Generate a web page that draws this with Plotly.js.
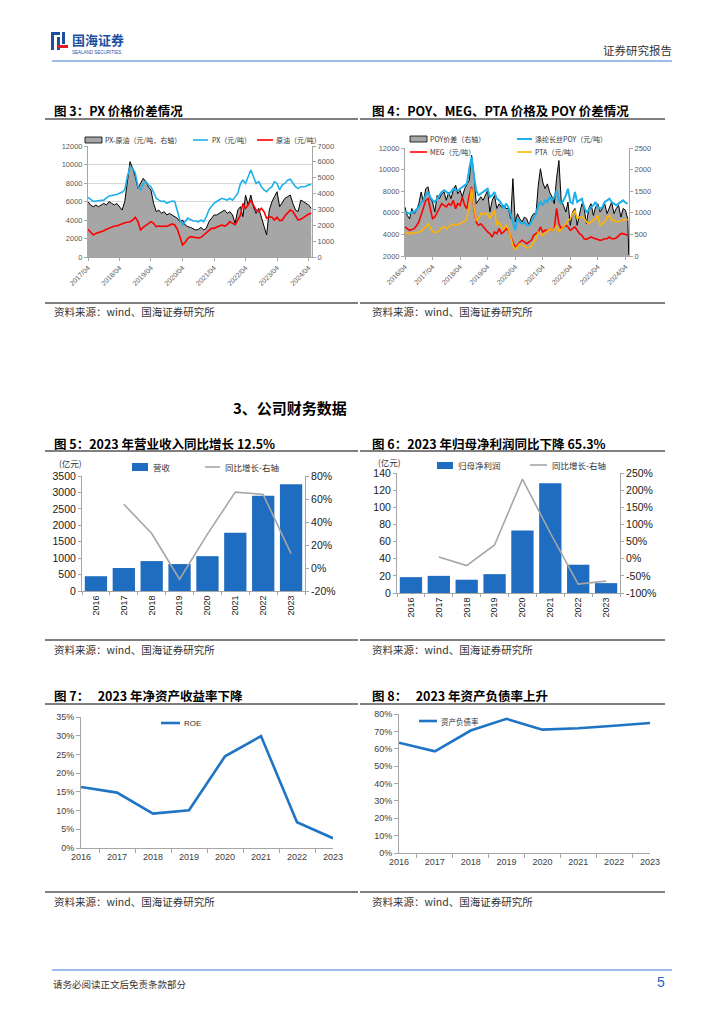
<!DOCTYPE html>
<html><head><meta charset="utf-8">
<script src="https://cdn.plot.ly/plotly-3.0.1.min.js"></script>
<style>html,body{margin:0;padding:0;background:#fff}#chart{width:724px;height:1024px}</style>
</head><body><div id="chart"></div>
<script>
function monthSeq(y,m,n){const a=[];for(let i=0;i<n;i++){const mm=m-1+i;const yy=y+Math.floor(mm/12);const mo=mm%12+1;a.push(yy+'-'+String(mo).padStart(2,'0')+'-01');}return a;}

// ===== Figure 3: PX price & spread (monthly, 2017/04 - 2024/05) =====
const months3 = monthSeq(2017,4,86);
const pxPrice = [6450,6200,6000,6050,6100,6150,6150,6400,6600,
 6650,6700,6750,6900,7000,7250,8700,9750,9600,9050,7600,7250,
 7950,8150,7800,7600,6900,6350,6150,6000,6050,5800,5950,6050,
 6000,5100,4000,3450,3800,4200,4050,3900,3900,3800,4000,3800,
 4350,5100,5450,5800,6000,6150,6350,6250,6150,6350,6150,6500,
 6900,7950,8300,7950,8700,9400,8700,7950,8150,7600,7250,7050,
 7400,7600,8150,7950,7250,7800,7950,8300,8400,7950,7600,7400,
 7600,7600,7650,7800,7850];
const crudePrice = [2990,2700,2380,2550,2630,2750,2850,3000,3100,
 3250,3350,3350,3460,3650,3710,3750,3820,4000,4290,3820,2920,
 3210,3460,3600,3820,3640,3280,3350,3300,3350,3300,3400,3570,
 3460,2990,2200,1300,1600,2020,2200,2150,2020,2050,2130,2380,
 2700,2920,3100,3100,3250,3350,3450,3350,3500,3820,3640,3500,
 4000,4540,5800,5260,5620,6160,5620,5080,4900,5260,4900,4180,
 4360,4290,4000,4290,3930,4000,4430,4790,5080,4900,4360,4000,
 4070,4290,4430,4650,4720];
const pxSpread = [3490,3280,3170,3280,3170,3280,3380,3280,3490,
 3380,3280,3380,3170,2960,3490,4640,6010,5590,5060,4330,4640,
 4960,4750,4430,4220,3380,2860,2960,2750,2860,2650,2750,2650,
 2540,2440,2230,2330,2020,1910,1870,1810,1700,1740,1870,1700,
 1810,2230,2440,2650,2650,2750,2860,2960,2750,2860,2650,2120,
 2960,3170,2540,3910,3280,3910,3170,2750,3070,2540,1910,1390,
 2960,3490,3800,4120,3170,3490,3700,3800,3910,3380,2960,2860,
 3590,3490,3380,3280,3070];
const ticks3Vals = ['2017-04-01','2018-04-01','2019-04-01','2020-04-01','2021-04-01','2022-04-01','2023-04-01','2024-04-01'];
const ticks3Text = ['2017/04','2018/04','2019/04','2020/04','2021/04','2022/04','2023/04','2024/04'];

// ===== Figure 4: POY, MEG, PTA prices & POY spread (monthly, 2016/04 - 2024/05) =====
const months4 = monthSeq(2016,4,98);
const poyPrice = [6230,6000,5920,6100,6070,6300,6540,6900,7150,
 7620,7930,7460,7150,7000,7310,7620,7930,8080,7930,7770,7930,
 8230,8080,8080,8230,8390,8540,8700,10090,11170,9470,8080,7620,
 7770,7930,8080,8230,7460,7620,7930,7310,7150,6850,6380,6850,
 6540,5770,5000,4400,5460,5150,4990,5150,4840,4840,5150,5610,
 5920,6690,7000,6690,7150,7000,7460,7150,7460,8080,7150,6850,
 7150,7620,8230,7000,6850,7930,7000,7150,7310,6540,6070,6230,
 6540,6690,7000,6540,6380,6540,7000,7150,7310,7000,6850,6690,
 6850,7000,7150,6940,6850];
const megPrice = [4690,4500,4380,4450,4530,4800,5150,5800,6380,
 7150,7310,6380,5460,5610,6070,6380,6850,6690,6540,6850,6690,
 7150,6380,6850,6690,7460,6690,6380,7620,8390,6380,5150,4840,
 4990,4690,4530,4220,4070,3760,4220,4070,4530,4070,4220,4530,
 4380,3760,3300,2830,2990,3300,3450,3300,3140,3300,3450,3910,
 4070,4220,4690,4220,4380,4380,4530,4380,4530,6400,4990,4530,
 4690,4840,4690,4380,4530,4690,4380,4070,3910,3600,3540,3670,
 3760,3670,3600,3540,3450,3510,3600,3600,3760,3600,3600,3670,
 3850,4070,4070,3980,3910];
const ptaPrice = [4220,4100,4070,4100,4160,4200,4220,4300,4470,
 4690,4990,4590,4280,4160,4220,4380,4590,4690,4530,4690,4840,
 4990,4840,4900,4990,5150,5150,5460,6690,8230,6540,5300,5460,
 5920,5920,5920,5920,5460,5920,6230,4840,5150,4690,4470,4840,
 4530,3760,2990,2620,2830,3140,2990,2930,2740,2740,2930,3300,
 3600,4220,4070,3910,4070,4280,4530,4380,4470,4840,4220,4470,
 4690,4990,5300,5400,5920,6230,5460,5610,5610,5460,5150,4990,
 5150,5300,5460,5770,4840,4990,5150,5610,5770,5300,5300,5150,
 5210,5300,5300,5400,5330];
const poySpreadDates = months4.concat(['2024-05-15']);
const poySpread = [1130,940,860,1100,980,1060,1210,1480,1250,
 1560,1600,1330,1250,1020,1400,1330,1440,1480,1290,1480,1330,
 1520,1640,1440,1520,1370,1560,1640,1750,2330,1910,1210,1290,
 1370,1290,1400,1520,1020,1290,1400,1100,1210,1130,1170,1100,
 1100,860,1790,790,980,860,790,900,860,710,900,980,
 980,1640,2020,1710,1560,1670,1480,1370,1210,1800,2210,1290,
 1170,1020,1250,710,1020,1100,710,940,1210,1100,750,1100,
 1210,940,1130,1210,1020,1100,1210,980,1130,1250,980,1100,
 1170,900,1100,1060,860,20];
const ticks4Vals = ['2016-04-01','2017-04-01','2018-04-01','2019-04-01','2020-04-01','2021-04-01','2022-04-01','2023-04-01','2024-04-01'];
const ticks4Text = ['2016/04','2017/04','2018/04','2019/04','2020/04','2021/04','2022/04','2023/04','2024/04'];

// ===== Figures 5-8: annual financials =====
const years = ['2016','2017','2018','2019','2020','2021','2022','2023'];
const revenue = [450,700,910,820,1060,1770,2900,3250];          // 亿元
const revenueYoY = [null,55.5,30,-9.8,29.5,66,64,12.5];        // %
const netProfit = [18.5,20,15.5,22,73,128,33,11.5];            // 亿元
const netProfitYoY = [null,5,-20,40,232,75,-74,-65.3];         // %
const roe = [0.163,0.148,0.092,0.101,0.245,0.299,0.069,0.026];
const debtRatio = [0.635,0.585,0.705,0.772,0.71,0.718,0.732,0.748];

const rev5Ticks = [0,500,1000,1500,2000,2500,3000,3500];
const yoy5TickVals = [-20,0,20,40,60,80];
const yoy5TickText = ['-20%','0%','20%','40%','60%','80%'];
const np6Ticks = [0,20,40,60,80,100,120,140];
const yoy6TickVals = [-100,-50,0,50,100,150,200,250];
const yoy6TickText = ['-100%','-50%','0%','50%','100%','150%','200%','250%'];

// ===== layout helpers =====
const W=724,H=1024;
const X=p=>p/W, Y=p=>1-p/H;
const CJK='"Noto Sans CJK SC", "Noto Sans", sans-serif';
const ARIAL='"Liberation Sans", Arial, sans-serif';
const AXC='#a6a6a6';

function txt(x,y,text,size,o){o=o||{};return {xref:'paper',yref:'paper',x:X(x),y:Y(y),text:text,showarrow:false,
  xanchor:o.anchor||'left',yanchor:'middle',borderpad:0,
  font:{family:o.family||CJK,size:size,color:o.color||'#222',weight:o.weight||'normal'}};}
function hline(x1,x2,y,color,width){return {type:'line',xref:'paper',yref:'paper',x0:X(x1),x1:X(x2),y0:Y(y),y1:Y(y),line:{color:color,width:width}};}
function rect(x1,y1,x2,y2,fill,lc,lw){return {type:'rect',xref:'paper',yref:'paper',x0:X(x1),x1:X(x2),y0:Y(y2),y1:Y(y1),fillcolor:fill,line:{color:lc||fill,width:lw===undefined?0:lw}};}

const tf34={family:ARIAL,size:7.5,color:'#595959'};
const tf56={family:ARIAL,size:10.5,color:'#1a1a1a'};
const tf78={family:ARIAL,size:9,color:'#404040'};

const data=[
 // Figure 3
 {x:months3,y:pxSpread,type:'scatter',mode:'lines',fill:'tozeroy',fillcolor:'#a6a6a6',line:{color:'#000',width:1},xaxis:'x',yaxis:'y',showlegend:false},
 {x:months3,y:pxPrice,type:'scatter',mode:'lines',line:{color:'#1eb0ea',width:1.6},xaxis:'x',yaxis:'y2',showlegend:false},
 {x:months3,y:crudePrice,type:'scatter',mode:'lines',line:{color:'#ff0000',width:1.6},xaxis:'x',yaxis:'y2',showlegend:false},
 // Figure 4
 {x:poySpreadDates,y:poySpread,type:'scatter',mode:'lines',fill:'tozeroy',fillcolor:'#a6a6a6',line:{color:'#000',width:1},xaxis:'x2',yaxis:'y3',showlegend:false},
 {x:months4,y:megPrice,type:'scatter',mode:'lines',line:{color:'#ff0000',width:1.6},xaxis:'x2',yaxis:'y4',showlegend:false},
 {x:months4,y:ptaPrice,type:'scatter',mode:'lines',line:{color:'#ffb300',width:1.6},xaxis:'x2',yaxis:'y4',showlegend:false},
 {x:months4,y:poyPrice,type:'scatter',mode:'lines',line:{color:'#1eb0ea',width:2},xaxis:'x2',yaxis:'y4',showlegend:false},
 // Figure 5
 {x:years,y:revenue,type:'bar',marker:{color:'#1f6dc0'},xaxis:'x3',yaxis:'y5',showlegend:false},
 {x:years,y:revenueYoY,type:'scatter',mode:'lines',line:{color:'#a6a6a6',width:1.6},xaxis:'x3',yaxis:'y6',showlegend:false},
 // Figure 6
 {x:years,y:netProfit,type:'bar',marker:{color:'#1f6dc0'},xaxis:'x4',yaxis:'y7',showlegend:false},
 {x:years,y:netProfitYoY,type:'scatter',mode:'lines',line:{color:'#a6a6a6',width:1.6},xaxis:'x4',yaxis:'y8',showlegend:false},
 // Figure 7
 {x:years,y:roe,type:'scatter',mode:'lines',line:{color:'#1f74c4',width:2.6},xaxis:'x5',yaxis:'y9',showlegend:false},
 // Figure 8
 {x:years,y:debtRatio,type:'scatter',mode:'lines',line:{color:'#1f74c4',width:2.6},xaxis:'x6',yaxis:'y10',showlegend:false}
];

const baseAx={showline:true,linecolor:AXC,linewidth:1,ticks:'outside',ticklen:3,tickcolor:AXC,showgrid:false,zeroline:false,fixedrange:true};

const layout={
 width:W,height:H,margin:{l:0,r:0,t:0,b:0},autosize:false,showlegend:false,
 paper_bgcolor:'#fff',plot_bgcolor:'rgba(0,0,0,0)',
 // Figure 3
 xaxis:Object.assign({},baseAx,{domain:[X(88),X(312)],anchor:'y',type:'date',range:['2017-04-01','2024-05-10'],tickvals:ticks3Vals,ticktext:ticks3Text,tickangle:-45,tickfont:Object.assign({},tf34,{size:7})}),
 yaxis:Object.assign({},baseAx,{domain:[Y(257),Y(146)],anchor:'x',side:'right',range:[0,7000],dtick:1000,tickformat:'d',tickfont:tf34}),
 yaxis2:Object.assign({},baseAx,{overlaying:'y',anchor:'x',side:'left',range:[0,12000],dtick:2000,tickformat:'d',tickfont:tf34,showgrid:true,gridcolor:'#d9d9d9',gridwidth:1}),
 // Figure 4
 xaxis2:Object.assign({},baseAx,{domain:[X(405),X(629)],anchor:'y3',type:'date',range:['2016-04-01','2024-05-18'],tickvals:ticks4Vals,ticktext:ticks4Text,tickangle:-45,tickfont:Object.assign({},tf34,{size:7})}),
 yaxis3:Object.assign({},baseAx,{domain:[Y(256),Y(148)],anchor:'x2',side:'right',range:[0,2500],dtick:500,tickformat:'d',tickfont:tf34}),
 yaxis4:Object.assign({},baseAx,{overlaying:'y3',anchor:'x2',side:'left',range:[2000,12000],dtick:2000,tickformat:'d',tickfont:tf34}),
 // Figure 5
 xaxis3:Object.assign({},baseAx,{domain:[X(82),X(305)],anchor:'y5',type:'category',tickangle:-90,tickson:'boundaries',tickfont:{family:ARIAL,size:9,color:'#1a1a1a'}}),
 yaxis5:Object.assign({},baseAx,{domain:[Y(591),Y(476)],anchor:'x3',range:[0,3500],tickvals:rev5Ticks,tickformat:'d',tickfont:tf56}),
 yaxis6:Object.assign({},baseAx,{overlaying:'y5',anchor:'x3',side:'right',range:[-20,80],tickvals:yoy5TickVals,ticktext:yoy5TickText,tickfont:tf56}),
 // Figure 6
 xaxis4:Object.assign({},baseAx,{domain:[X(397),X(620)],anchor:'y7',type:'category',tickangle:-90,tickson:'boundaries',tickfont:{family:ARIAL,size:9,color:'#1a1a1a'}}),
 yaxis7:Object.assign({},baseAx,{domain:[Y(593),Y(473)],anchor:'x4',range:[0,140],tickvals:np6Ticks,tickformat:'d',tickfont:tf56}),
 yaxis8:Object.assign({},baseAx,{overlaying:'y7',anchor:'x4',side:'right',range:[-100,250],tickvals:yoy6TickVals,ticktext:yoy6TickText,tickfont:tf56}),
 // Figure 7
 xaxis5:Object.assign({},baseAx,{domain:[X(81),X(333)],anchor:'y9',type:'category',tickson:'boundaries',ticklen:4,tickfont:tf78}),
 yaxis9:Object.assign({},baseAx,{domain:[Y(848),Y(717)],anchor:'x5',range:[0,0.35],dtick:0.05,tickformat:'.0%',ticklen:4,tickfont:tf78}),
 // Figure 8
 xaxis6:Object.assign({},baseAx,{domain:[X(399),X(650)],anchor:'y10',type:'category',tickson:'boundaries',ticklen:4,tickfont:tf78}),
 yaxis10:Object.assign({},baseAx,{domain:[Y(853),Y(714)],anchor:'x6',range:[0,0.8],dtick:0.1,tickformat:'.0%',ticklen:4,tickfont:tf78}),
 shapes:[
  // header / footer
  hline(52,672,61,'#9dbde8',2),
  hline(52,672,970,'#9dbde8',2),
  rect(51,32,54,50,'#1d4f9f'), rect(51,32,60,35,'#1d4f9f'), rect(57,37,60,50,'#1d4f9f'),
  rect(62,32,65,44,'#1d4f9f'), rect(58,45,68,48,'#e02020'),
  // title rules
  hline(45,358,119,'#000',1), hline(360,665,119,'#000',1),
  hline(45,358,303,'#000',1), hline(360,665,303,'#000',1),
  hline(45,358,451,'#000',1), hline(360,665,451,'#000',1),
  hline(45,358,640,'#000',1), hline(360,665,640,'#000',1),
  hline(45,358,704,'#000',1), hline(360,665,704,'#000',1),
  hline(45,358,892,'#000',1), hline(360,665,892,'#000',1),
  // legend swatches fig 3
  rect(85,137,102,143,'#a6a6a6','#000',0.8), hline(193,208,140,'#1eb0ea',1.6), hline(257,273,140,'#ff0000',1.6),
  // legend swatches fig 4
  rect(410,136,427,142,'#a6a6a6','#000',0.8), hline(517,532,139,'#1eb0ea',2),
  hline(410,427,152,'#ff0000',1.6), hline(517,532,152,'#ffb300',1.6),
  // legend fig 5
  rect(132,463,148,471,'#1f6dc0'), hline(205,220,467,'#a6a6a6',1.6),
  // legend fig 6
  rect(437,462,453,469,'#1f6dc0'), hline(530,547,465,'#a6a6a6',1.6),
  // legend fig 7 / 8
  hline(161,180,723,'#1f74c4',2.6), hline(419,437,721,'#1f74c4',2.6)
 ],
 annotations:[
  txt(71,39,'国海证券',13,{weight:'bold',color:'#1d4f9f'}),
  txt(71,52,'SEALAND SECURITIES',4.5,{family:ARIAL,color:'#1d4f9f'}),
  txt(673,50,'证券研究报告',11.5,{anchor:'right',color:'#333'}),
  txt(53,110,'图 3：PX 价格价差情况',12.5,{weight:'bold',color:'#000'}),
  txt(371,110,'图 4：POY、MEG、PTA 价格及 POY 价差情况',12.5,{weight:'bold',color:'#000'}),
  txt(104,140,'PX-原油（元/吨，右轴）',7,{color:'#333'}),
  txt(211,140,'PX（元/吨）',7,{color:'#333'}),
  txt(275,140,'原油（元/吨）',7,{color:'#333'}),
  txt(429,139,'POY价差（右轴）',7,{color:'#333'}),
  txt(534,139,'涤纶长丝POY（元/吨）',7,{color:'#333'}),
  txt(429,152,'MEG（元/吨）',7,{color:'#333'}),
  txt(534,152,'PTA（元/吨）',7,{color:'#333'}),
  txt(53,311,'资料来源：wind、国海证券研究所',10.5,{color:'#333'}),
  txt(371,311,'资料来源：wind、国海证券研究所',10.5,{color:'#333'}),
  txt(232,407,'3、公司财务数据',15,{weight:'bold',color:'#000'}),
  txt(53,443,'图 5：2023 年营业收入同比增长 12.5%',12.5,{weight:'bold',color:'#000'}),
  txt(371,443,'图 6：2023 年归母净利润同比下降 65.3%',12.5,{weight:'bold',color:'#000'}),
  txt(58,463,'(亿元)',8.5,{color:'#333'}),
  txt(152,467,'营收',8.5,{color:'#333'}),
  txt(224,467,'同比增长-右轴',8.5,{color:'#333'}),
  txt(377,462,'(亿元)',8.5,{color:'#333'}),
  txt(457,465,'归母净利润',8.5,{color:'#333'}),
  txt(551,465,'同比增长-右轴',8.5,{color:'#333'}),
  txt(53,649,'资料来源：wind、国海证券研究所',10.5,{color:'#333'}),
  txt(371,649,'资料来源：wind、国海证券研究所',10.5,{color:'#333'}),
  txt(53,695,'图 7：   2023 年净资产收益率下降',12.5,{weight:'bold',color:'#000'}),
  txt(371,695,'图 8：   2023 年资产负债率上升',12.5,{weight:'bold',color:'#000'}),
  txt(183,723,'ROE',8,{family:ARIAL,color:'#333'}),
  txt(440,721,'资产负债率',7.5,{color:'#333'}),
  txt(53,901,'资料来源：wind、国海证券研究所',10.5,{color:'#333'}),
  txt(371,901,'资料来源：wind、国海证券研究所',10.5,{color:'#333'}),
  txt(52,984,'请务必阅读正文后免责条款部分',9.5,{color:'#333'}),
  txt(666,982,'5',14,{family:ARIAL,anchor:'right',color:'#1e64c8'})
 ]
};

Plotly.newPlot('chart',data,layout,{displayModeBar:false,staticPlot:true});
</script>
</body></html>
